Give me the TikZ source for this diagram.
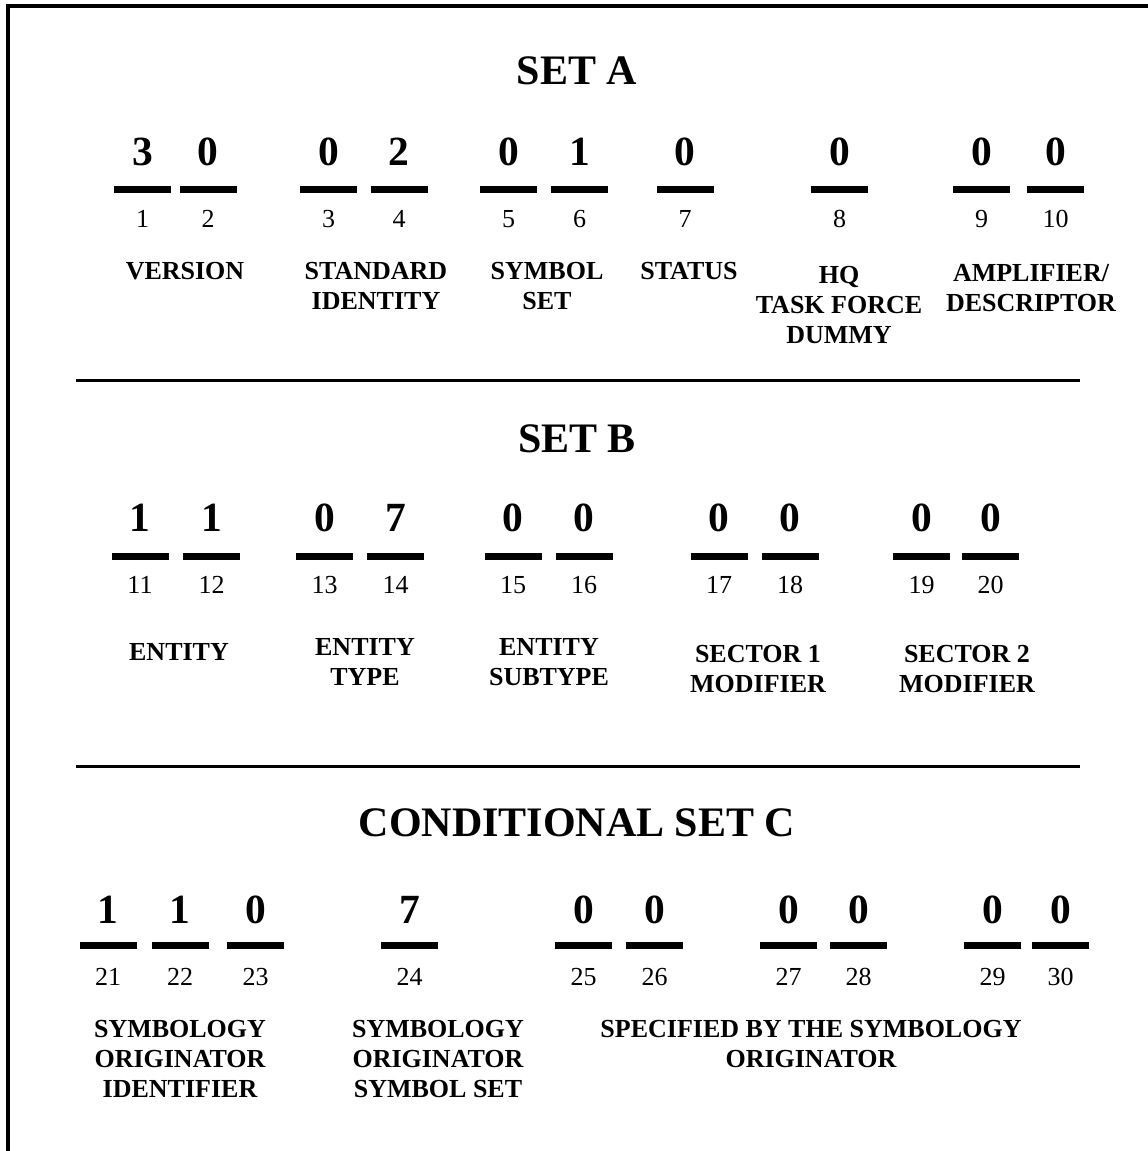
\documentclass[tikz,border=0pt]{standalone}
\usepackage{fontspec}
\setmainfont{Liberation Serif}
\newcommand\stackl[1]{\begin{tabular}[t]{@{}c@{}}#1\end{tabular}}
\begin{document}
\begin{tikzpicture}[x=1pt,y=-1pt,
  settitle/.style={font=\fontsize{42}{48}\selectfont\bfseries, inner sep=0pt, anchor=base},
  digit/.style={font=\fontsize{41.5}{48}\selectfont\bfseries, inner sep=0pt, anchor=base},
  posnum/.style={font=\fontsize{26}{30}\selectfont, inner sep=0pt, anchor=base},
  lbl/.style={font=\fontsize{26}{30}\selectfont\bfseries, inner sep=0pt, anchor=base},
  slotbar/.style={fill=black, draw=none, minimum width=57pt, minimum height=7pt, inner sep=0pt},
  rule/.style={line width=3pt},
  frameline/.style={line width=3.5pt, line join=miter}]
\useasboundingbox (0,0) rectangle (1148,1151);

% frame (top and left edges)
\coordinate (fbot) at (8,1155);
\coordinate (fcorner) at (8,6);
\coordinate (fright) at (1152,6);
\draw[frameline] (fbot) -- (fcorner) -- (fright);

% separators
\coordinate (r1a) at (76,380);
\coordinate (r1b) at (1080,380);
\coordinate (r2a) at (76,766);
\coordinate (r2b) at (1080,766);
\draw[rule] (r1a) -- (r1b);
\draw[rule] (r2a) -- (r2b);

% titles
\node[settitle] (tA) at (577,84) {SET A};
\node[settitle] (tB) at (577,452) {SET B};
\node[settitle] (tC) at (577,836) {CONDITIONAL SET C};

% set A
\foreach \n/\x/\d in {1/142.5/3, 2/208/0, 3/328.5/0, 4/399/2, 5/508.5/0, 6/579.5/1, 7/685/0, 8/839.5/0, 9/981.5/0, 10/1055.5/0}{
  \node[digit] (d\n) at (\x,165) {\d};
  \node[slotbar] (b\n) at (\x,189.5) {};
  \node[posnum] (p\n) at (\x,227) {\n};
}
% set B
\foreach \n/\x/\d in {11/140/1, 12/211.5/1, 13/324.5/0, 14/395.5/7, 15/513/0, 16/584/0, 17/719/0, 18/790/0, 19/921.5/0, 20/990.5/0}{
  \node[digit] (d\n) at (\x,531) {\d};
  \node[slotbar] (b\n) at (\x,556) {};
  \node[posnum] (p\n) at (\x,593) {\n};
}
% set C
\foreach \n/\x/\d in {21/108/1, 22/180/1, 23/255.5/0, 24/409.5/7, 25/583.5/0, 26/654.5/0, 27/788.5/0, 28/858.5/0, 29/992.5/0, 30/1060.5/0}{
  \node[digit] (d\n) at (\x,923) {\d};
  \node[slotbar] (b\n) at (\x,945.5) {};
  \node[posnum] (p\n) at (\x,985) {\n};
}

% labels set A
\node[lbl] (lVer) at (185,279) {VERSION};
\node[lbl] (lStd) at (376,279) {\stackl{STANDARD\\IDENTITY}};
\node[lbl] (lSym) at (547,279) {\stackl{SYMBOL\\SET}};
\node[lbl] (lSta) at (689,279) {STATUS};
\node[lbl] (lHQ) at (839,283) {\stackl{HQ\\TASK FORCE\\DUMMY}};
\node[lbl] (lAmp) at (1031,281) {\stackl{AMPLIFIER/\\DESCRIPTOR}};

% labels set B
\node[lbl] (lEnt) at (179,660) {ENTITY};
\node[lbl] (lEtp) at (365,655) {\stackl{ENTITY\\TYPE}};
\node[lbl] (lEst) at (549,655) {\stackl{ENTITY\\SUBTYPE}};
\node[lbl] (lS1) at (758,662) {\stackl{SECTOR 1\\MODIFIER}};
\node[lbl] (lS2) at (967,662) {\stackl{SECTOR 2\\MODIFIER}};

% labels set C
\node[lbl] (lOid) at (180,1037) {\stackl{SYMBOLOGY\\ORIGINATOR\\IDENTIFIER}};
\node[lbl] (lOss) at (438,1037) {\stackl{SYMBOLOGY\\ORIGINATOR\\SYMBOL SET}};
\node[lbl] (lSpec) at (811,1037) {\stackl{SPECIFIED BY THE SYMBOLOGY\\ORIGINATOR}};
\end{tikzpicture}
\end{document}
